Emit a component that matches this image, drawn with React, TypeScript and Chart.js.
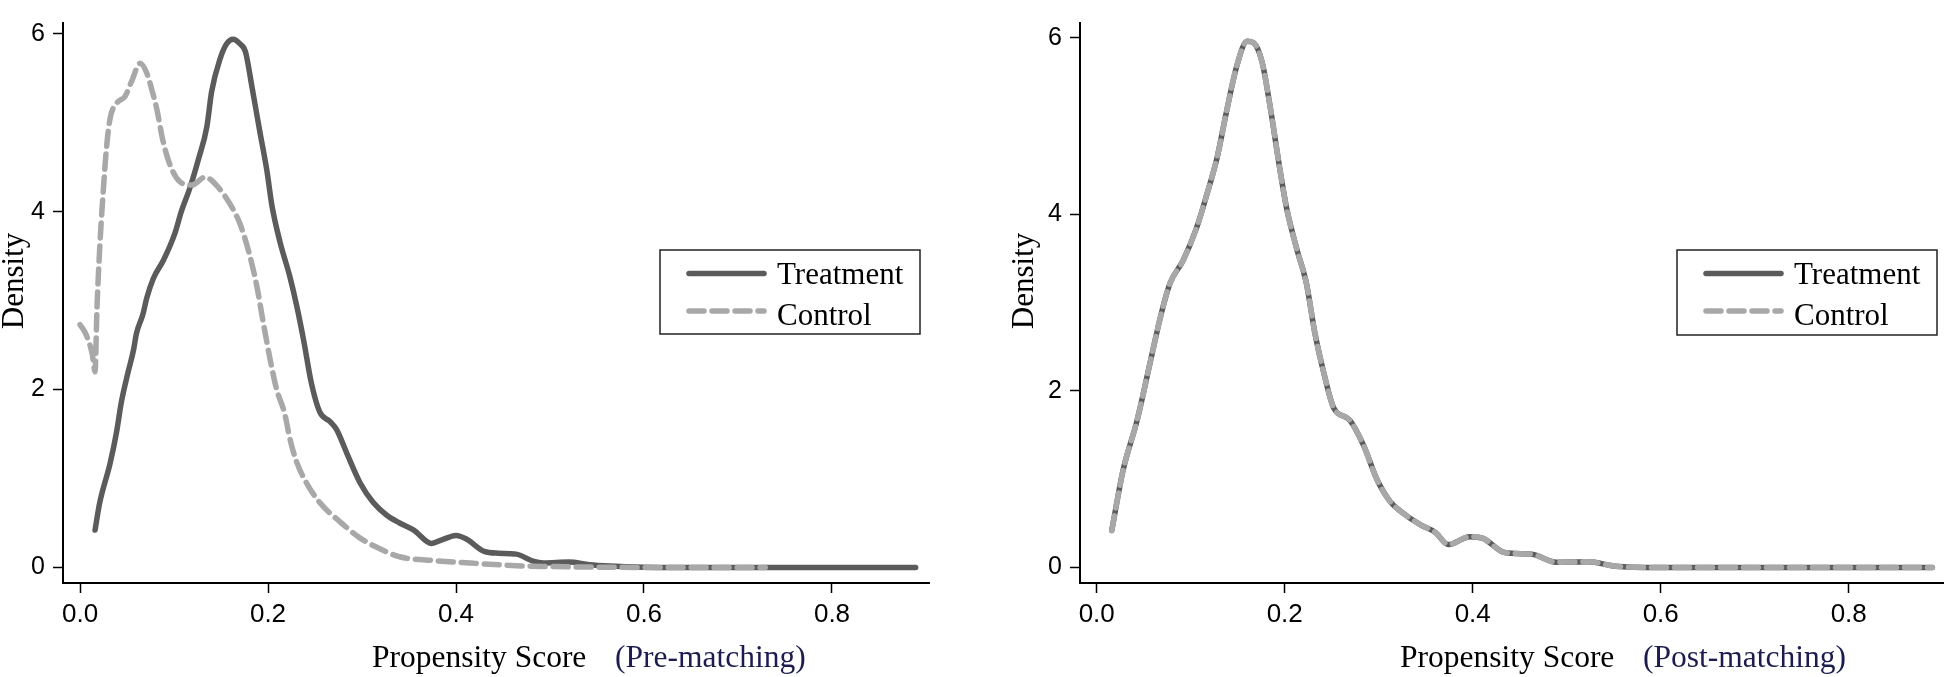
import React, { useEffect, useRef } from "react";
import { Chart, registerables } from "chart.js";

Chart.register(...registerables);

// ---------- Data ----------
const seriesLabels = ["Treatment", "Control"];
const yAxisTitle = "Density";
const xAxisTitle = "Propensity Score";
const panelTags = ["(Pre-matching)", "(Post-matching)"];
const xTickStep = 0.2;
const yTickStep = 2;

// Pre-matching: Treatment
const preTreatmentX = [
  0.016, 0.021, 0.032, 0.039, 0.044, 0.051, 0.057, 0.06, 0.067, 0.071, 0.078, 0.089, 0.101, 0.108,
  0.117, 0.126, 0.135, 0.14, 0.149, 0.156, 0.163, 0.17, 0.176, 0.183, 0.191, 0.199, 0.204, 0.213,
  0.223, 0.231, 0.238, 0.246, 0.255, 0.266, 0.273, 0.284, 0.298, 0.312, 0.326, 0.34, 0.355, 0.374,
  0.385, 0.4, 0.411, 0.43, 0.445, 0.464, 0.482, 0.493, 0.52, 0.542, 0.564, 0.6, 0.65, 0.7, 0.75,
  0.8, 0.85, 0.889,
];
const preTreatmentY = [
  0.42, 0.73, 1.17, 1.53, 1.86, 2.19, 2.45, 2.63, 2.85, 3.03, 3.25, 3.46, 3.76, 4.01,
  4.27, 4.59, 4.96, 5.35, 5.72, 5.89, 5.94, 5.89, 5.8, 5.4, 4.92, 4.45, 4.08, 3.65,
  3.28, 2.92, 2.55, 2.08, 1.75, 1.64, 1.55, 1.28, 0.95, 0.73, 0.59, 0.5, 0.42, 0.27,
  0.31, 0.36, 0.32, 0.18, 0.16, 0.15, 0.07, 0.05, 0.06, 0.03, 0.015, 0.003, 0, 0, 0,
  0, 0, 0,
];

// Pre-matching: Control
const preControlX = [
  0.0, 0.005, 0.009, 0.013, 0.016, 0.018, 0.021, 0.0245, 0.028, 0.032, 0.039, 0.048, 0.055, 0.064,
  0.071, 0.077, 0.082, 0.088, 0.096, 0.106, 0.119, 0.133, 0.145, 0.16, 0.17, 0.179, 0.188, 0.195,
  0.203, 0.209, 0.218, 0.223, 0.23, 0.241, 0.255, 0.277, 0.298, 0.319, 0.34, 0.378, 0.415, 0.464,
  0.5, 0.55, 0.6, 0.65, 0.7, 0.729,
];
const preControlY = [
  2.73, 2.65, 2.55, 2.4, 2.2, 2.9, 3.6, 4.2, 4.7, 5.05, 5.22, 5.3, 5.47, 5.67,
  5.56, 5.35, 5.14, 4.81, 4.52, 4.34, 4.3, 4.39, 4.3, 4.08, 3.87, 3.57, 3.17, 2.75,
  2.3, 2.01, 1.72, 1.46, 1.2, 0.95, 0.73, 0.51, 0.33, 0.21, 0.12, 0.076, 0.05, 0.02,
  0.01, 0.003, 0, 0, 0, 0,
];

// Post-matching (both groups)
const postX = [
  0.016, 0.028, 0.043, 0.057, 0.069, 0.078, 0.092, 0.106, 0.117, 0.128, 0.138, 0.149, 0.16, 0.167,
  0.176, 0.184, 0.195, 0.202, 0.213, 0.223, 0.232, 0.241, 0.252, 0.269, 0.284, 0.298, 0.312, 0.323,
  0.345, 0.36, 0.374, 0.397, 0.411, 0.434, 0.463, 0.489, 0.523, 0.552, 0.597, 0.65, 0.7, 0.75,
  0.8, 0.85, 0.889,
];
const postTreatmentY = [
  0.42, 1.1, 1.67, 2.33, 2.89, 3.22, 3.48, 3.84, 4.22, 4.64, 5.16, 5.68, 5.96, 5.94,
  5.72, 5.25, 4.5, 4.07, 3.6, 3.22, 2.66, 2.23, 1.81, 1.67, 1.38, 1.0, 0.75, 0.64,
  0.48, 0.4, 0.26, 0.35, 0.33, 0.17, 0.15, 0.06, 0.065, 0.015, 0, 0, 0, 0,
  0, 0, 0,
];
const postControlY = [
  0.42, 1.1, 1.67, 2.33, 2.89, 3.22, 3.48, 3.84, 4.22, 4.64, 5.16, 5.68, 5.96, 5.94,
  5.72, 5.25, 4.5, 4.07, 3.6, 3.22, 2.66, 2.23, 1.81, 1.67, 1.38, 1.0, 0.75, 0.64,
  0.48, 0.4, 0.26, 0.35, 0.33, 0.17, 0.15, 0.06, 0.065, 0.015, 0, 0, 0, 0,
  0, 0, 0,
];

// ---------- Styling ----------
const TREAT_COLOR = "#5b5b5b";
const CTRL_COLOR = "#a8a8a8";
const TAG_COLOR = "#1c1c4e";
const SERIF = '"Liberation Serif", "Times New Roman", serif';
const SANS = '"Liberation Sans", Arial, sans-serif';

const toPoints = (xs: number[], ys: number[]) => xs.map((x, i) => ({ x, y: ys[i] }));

const panelText = {
  id: "panelText",
  afterDraw(chart: any, _args: any, opts: any) {
    const ctx = chart.ctx as CanvasRenderingContext2D;
    // y-axis title
    ctx.save();
    ctx.font = `31px ${SERIF}`;
    ctx.fillStyle = "#000";
    ctx.translate(opts.yTitleX, opts.yTitleY);
    ctx.rotate(-Math.PI / 2);
    ctx.textAlign = "center";
    ctx.textBaseline = "middle";
    ctx.fillText(opts.yTitle, 0, 0);
    ctx.restore();

    // x-axis title
    ctx.save();
    ctx.font = `31.5px ${SERIF}`;
    ctx.textAlign = "left";
    ctx.textBaseline = "alphabetic";
    ctx.fillStyle = "#000";
    ctx.fillText(opts.xTitle, opts.xTitleX, opts.xTitleY);
    ctx.fillStyle = TAG_COLOR;
    ctx.fillText(opts.tag, opts.tagX, opts.xTitleY);
    ctx.restore();

    // legend
    const b = opts.legendBox;
    ctx.save();
    ctx.fillStyle = "#fff";
    ctx.fillRect(b.x, b.y, b.w, b.h);
    ctx.lineWidth = 1.5;
    ctx.strokeStyle = "#222";
    ctx.strokeRect(b.x, b.y, b.w, b.h);
    const rowsLine = [23.5, 61];
    const rowsText = [33.5, 75];
    chart.data.datasets.forEach((ds: any, i: number) => {
      ctx.save();
      ctx.strokeStyle = ds.borderColor;
      ctx.lineWidth = ds.borderWidth;
      ctx.lineCap = "round";
      ctx.setLineDash(ds.borderDash || []);
      ctx.beginPath();
      ctx.moveTo(b.x + 29, b.y + rowsLine[i]);
      ctx.lineTo(b.x + 104, b.y + rowsLine[i]);
      ctx.stroke();
      ctx.restore();
      ctx.font = `31px ${SERIF}`;
      ctx.fillStyle = "#000";
      ctx.textAlign = "left";
      ctx.textBaseline = "alphabetic";
      ctx.fillText(ds.label, b.x + 117, b.y + rowsText[i]);
    });
    ctx.restore();
  },
};

function buildConfig(
  treat: { x: number; y: number }[],
  ctrl: { x: number; y: number }[],
  cfg: any
) {
  const axisCommon = {
    grid: {
      display: true,
      drawOnChartArea: false,
      drawTicks: true,
      tickLength: 10,
      tickWidth: 1.5,
      tickColor: "#000",
      color: "#000",
    },
    border: { display: true, color: "#000", width: 2 },
  };
  return {
    type: "line" as const,
    data: {
      datasets: [
        {
          label: seriesLabels[0],
          data: treat,
          borderColor: TREAT_COLOR,
          borderWidth: 5.5,
          borderCapStyle: "round",
          borderJoinStyle: "round",
          pointRadius: 0,
          fill: false,
          cubicInterpolationMode: "monotone",
          order: 1,
        },
        {
          label: seriesLabels[1],
          data: ctrl,
          borderColor: CTRL_COLOR,
          borderWidth: 5.5,
          borderDash: [15, 8],
          borderCapStyle: "round",
          borderJoinStyle: "round",
          pointRadius: 0,
          fill: false,
          cubicInterpolationMode: "monotone",
          order: 0,
        },
      ],
    },
    options: {
      responsive: false,
      animation: false,
      devicePixelRatio: 1,
      layout: { padding: { left: 0, right: cfg.padRight, top: cfg.padTop, bottom: 0 } },
      scales: {
        x: {
          type: "linear",
          min: cfg.xMin,
          max: cfg.xMax,
          afterFit: (s: any) => {
            s.height = 94;
          },
          ticks: {
            stepSize: xTickStep,
            includeBounds: false,
            autoSkip: false,
            maxRotation: 0,
            padding: 6,
            color: "#000",
            font: { family: SANS, size: 26 },
            callback: (v: any) => Number(v).toFixed(1),
          },
          ...axisCommon,
        },
        y: {
          type: "linear",
          min: cfg.yMin,
          max: cfg.yMax,
          afterFit: (s: any) => {
            s.width = cfg.yWidth;
          },
          ticks: {
            stepSize: yTickStep,
            includeBounds: false,
            autoSkip: false,
            padding: 8,
            color: "#000",
            font: { family: SANS, size: 25 },
            callback: (v: any) => String(Math.round(Number(v))),
          },
          ...axisCommon,
        },
      },
      plugins: {
        legend: { display: false },
        tooltip: { enabled: false },
        panelText: cfg.text,
      },
    },
    plugins: [panelText],
  };
}

function Panel(props: { width: number; left: number; config: any }) {
  const ref = useRef<HTMLCanvasElement | null>(null);
  useEffect(() => {
    if (!ref.current) return;
    const chart = new Chart(ref.current, props.config);
    return () => chart.destroy();
  }, []);
  return (
    <canvas
      ref={ref}
      width={props.width}
      height={677}
      style={{ position: "absolute", left: props.left, top: 0, width: props.width, height: 677 }}
    />
  );
}

export default function App() {
  const leftConfig = buildConfig(
    toPoints(preTreatmentX, preTreatmentY),
    toPoints(preControlX, preControlY),
    {
      padRight: 31,
      padTop: 7,
      yWidth: 63,
      xMin: -0.0181,
      xMax: 0.9032,
      yMin: -0.175,
      yMax: 6.123,
      text: {
        yTitle: yAxisTitle,
        yTitleX: 15,
        yTitleY: 281,
        xTitle: xAxisTitle,
        xTitleX: 372,
        tag: panelTags[0],
        tagX: 615,
        xTitleY: 667,
        legendBox: { x: 660, y: 250, w: 260, h: 84 },
      },
    }
  );
  const rightConfig = buildConfig(
    toPoints(postX, postTreatmentY),
    toPoints(postX, postControlY),
    {
      padRight: 3,
      padTop: 3,
      yWidth: 120,
      xMin: -0.0178,
      xMax: 0.9003,
      yMin: -0.175,
      yMax: 6.166,
      text: {
        yTitle: yAxisTitle,
        yTitleX: 65,
        yTitleY: 281,
        xTitle: xAxisTitle,
        xTitleX: 440,
        tag: panelTags[1],
        tagX: 683,
        xTitleY: 667,
        legendBox: { x: 717, y: 250, w: 260, h: 85 },
      },
    }
  );
  return (
    <div style={{ position: "absolute", left: 0, top: 0, width: 1946, height: 677, background: "#fff" }}>
      <Panel width={960} left={0} config={leftConfig} />
      <Panel width={986} left={960} config={rightConfig} />
    </div>
  );
}
